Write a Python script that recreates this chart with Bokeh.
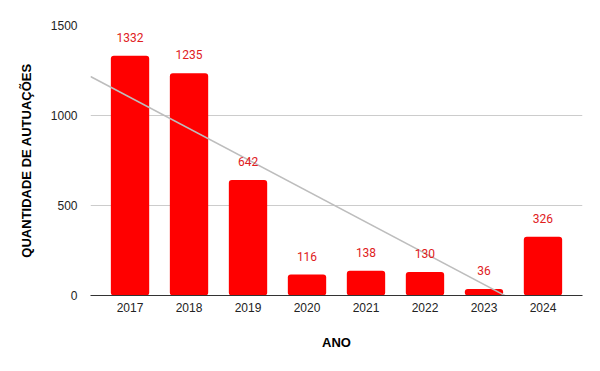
import numpy as np
from bokeh.plotting import figure
from bokeh.models import ColumnDataSource, FixedTicker, Range1d, LabelSet
from bokeh.core.properties import value
from bokeh.embed import file_html
from bokeh.resources import INLINE

years = ["2017", "2018", "2019", "2020", "2021", "2022", "2023", "2024"]
values = [1332, 1235, 642, 116, 138, 130, 36, 326]
y_ticks = [0, 500, 1000, 1500]

xs = list(range(len(years)))
src = ColumnDataSource(dict(x=xs, top=values, label=[str(v) for v in values]))

p = figure(width=592, height=363, output_backend="svg", toolbar_location=None,
           x_range=Range1d(-0.67, len(years) - 1 + 0.67), y_range=Range1d(0, 1500),
           min_border_left=90, min_border_right=10, min_border_top=25, min_border_bottom=68)
p.outline_line_color = None
p.background_fill_color = "white"

p.vbar(x="x", top="top", width=0.65, source=src, fill_color="#ff0000", line_color=None,
       border_radius=3)

# linear trendline (least squares)
coef = np.polyfit(xs, values, 1)
tx = np.array([-0.67, len(years) - 1 + 0.67])
p.line(tx, np.polyval(coef, tx), line_color="#bdbdbd", line_width=1.5)

labels = LabelSet(x="x", y="top", text="label", source=src, text_align="center",
                  text_baseline="bottom", y_offset=14, text_color="#e0201c",
                  text_font=value("Roboto"), text_font_size="12px")
p.add_layout(labels)

p.xaxis.ticker = FixedTicker(ticks=xs)
p.xaxis.major_label_overrides = {i: y for i, y in enumerate(years)}
p.yaxis.ticker = FixedTicker(ticks=y_ticks)

for ax in (p.xaxis, p.yaxis):
    ax.major_tick_line_color = None
    ax.minor_tick_line_color = None
    ax.major_label_text_font = "Liberation Sans"
    ax.major_label_text_font_size = "12px"
    ax.major_label_text_color = "#222222"
    ax.axis_label_text_font = "Liberation Sans"
    ax.axis_label_text_font_size = "13px"
    ax.axis_label_text_font_style = "bold"
    ax.axis_label_text_color = "#000000"

p.xaxis.axis_line_color = "#333333"
p.xaxis.axis_line_width = 1.2
p.yaxis.axis_line_color = None
p.xaxis.axis_label = "ANO"
p.yaxis.axis_label = "QUANTIDADE DE AUTUAÇÕES"
p.xaxis.major_label_standoff = 1
p.xaxis.axis_label_standoff = 20
p.yaxis.major_label_standoff = 7
p.yaxis.axis_label_standoff = 14

p.xgrid.grid_line_color = None
p.ygrid.grid_line_color = "#cccccc"
p.ygrid.ticker = FixedTicker(ticks=y_ticks)

open("out.html", "w").write(file_html(p, INLINE))
